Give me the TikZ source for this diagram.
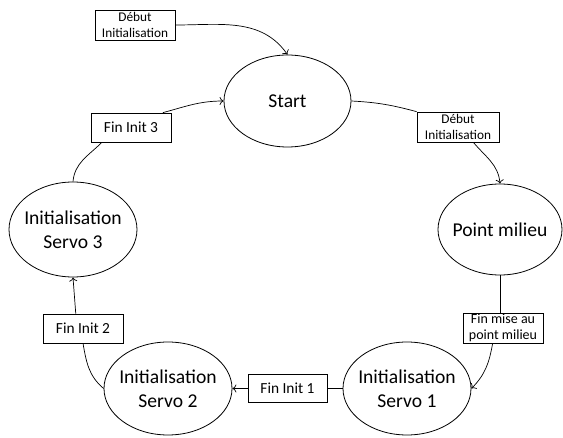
\documentclass[tikz,border=0pt]{standalone}
\usepackage{fontspec}
\setmainfont{Carlito}
\usetikzlibrary{shapes.geometric,arrows.meta}
\begin{document}
\begin{tikzpicture}[x=1pt,y=1pt,
  state/.style={draw, ellipse, line width=0.8pt, inner sep=-14pt,
    minimum width=128pt, minimum height=93pt, align=center,
    font=\fontsize{19.6}{23.6}\selectfont},
  event/.style={draw, rectangle, line width=0.7pt, inner sep=0pt,
    minimum width=80pt, minimum height=29pt, align=center,
    font=\fontsize{15.4}{18}\selectfont},
  smallevent/.style={event, minimum height=30pt, font=\fontsize{13.3}{16.2}\selectfont},
  flow/.style={line width=0.7pt, -{To[length=4pt,width=8pt]}},
  link/.style={line width=0.7pt}]
\useasboundingbox (0,0) rectangle (563,437);

% states
\node[state, minimum width=127pt, minimum height=92pt] (start) at (287.5,336) {Start};
\node[state, minimum width=124pt, minimum height=91pt] (pm) at (500,207.5) {Point milieu};
\node[state] (s1) at (407,48.5) {Initialisation\\Servo 1};
\node[state] (s2) at (168,48.5) {Initialisation\\Servo 2};
\node[state, minimum height=95pt] (s3) at (73,207.5) {Initialisation\\Servo 3};

% transition labels
\node[smallevent] (debA) at (135,412) {Début\\Initialisation};
\node[smallevent, minimum width=82pt] (debB) at (458,310) {Début\\Initialisation};
\node[smallevent, font=\fontsize{14}{16.4}\selectfont] (finpm) at (503,109) {Fin mise au\\point milieu};
\node[event, minimum width=79pt, minimum height=28pt] (fin1) at (287.5,48.5) {Fin Init 1};
\node[event] (fin2) at (83,108.5) {Fin Init 2};
\node[event] (fin3) at (131,309.5) {Fin Init 3};

% transitions
\draw[flow] (debA.east) to[out=0, in=125] (start.north);
\draw[link] (start.east) to[out=-3, in=165] (debB.north west);
\draw[flow] (debB.-45) to[out=-50, in=95] (pm.north);
\draw[link] (pm.south) -- (pm.south |- finpm.north);
\draw[flow] (finpm.236) to[out=-100, in=45] (s1.east);
\draw[link] (s1.west) -- (fin1.east);
\draw[flow] (fin1.west) -- (s2.east);
\draw[link] (s2.west) to[out=140, in=-80] (fin2.south);
\draw[flow] (fin2.116) -- (s3.south);
\draw[link] (s3.north) to[out=85, in=225] (fin3.207);
\draw[flow] (fin3.25) to[out=15, in=180] (start.west);
\end{tikzpicture}
\end{document}
